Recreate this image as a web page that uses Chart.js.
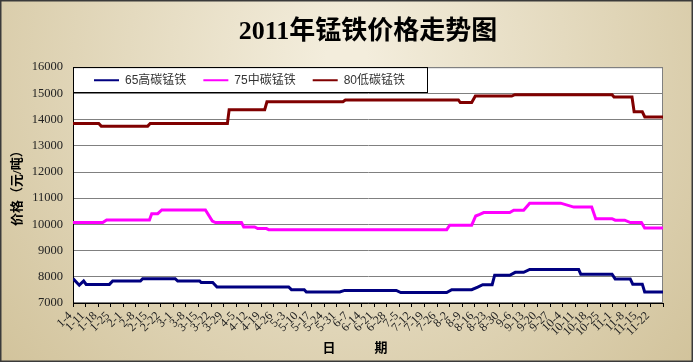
<!DOCTYPE html>
<html lang="zh-CN">
<head>
<meta charset="UTF-8">
<meta name="viewport" content="width=device-width, initial-scale=1.0">
<script src="https://cdn.jsdelivr.net/npm/chart.js@4"></script>
<title>2011年锰铁价格走势图</title>
<style>
  body { margin: 0; }
  #wrap { width: 693px; height: 362px; position: relative; }
</style>
</head>
<body>
<div id="wrap"><canvas id="myChart"></canvas></div>

<script>
// week labels (every Tuesday of 2011), one category per week
const weekLabels = ['1-4','1-11','1-18','1-25','2-1','2-8','2-15','2-22','3-1','3-8','3-15','3-22','3-29',
  '4-5','4-12','4-19','4-26','5-3','5-10','5-17','5-24','5-31','6-7','6-14','6-21','6-28',
  '7-5','7-12','7-19','7-26','8-2','8-9','8-16','8-23','8-30','9-6','9-13','9-20','9-27',
  '10-4','10-11','10-18','10-25','11-1','11-8','11-15','11-22'];

const seriesNames = ['65高碳锰铁', '75中碳锰铁', '80低碳锰铁'];
const seriesColors = ['#000080', '#ff00ff', '#800000'];

// [week position, price 元/吨] — 0 = week of 1-4
const gaoTan = [[-0.5,7930],[0.0,7680],[0.35,7840],[0.55,7710],[2.40,7710],[2.66,7840],[4.87,7840],[5.05,7930],
  [7.64,7930],[7.84,7840],[9.59,7840],[9.71,7780],[10.63,7780],[10.97,7610],[16.68,7610],[16.90,7510],
  [17.92,7510],[18.09,7420],[20.75,7420],[21.14,7480],[25.25,7480],[25.61,7400],[29.27,7400],[29.67,7510],
  [31.26,7510],[31.74,7610],[32.14,7700],[32.89,7700],[33.09,8060],[34.29,8060],[34.73,8170],[35.40,8170],
  [35.88,8280],[39.78,8280],[39.95,8100],[42.44,8100],[42.69,7920],[43.89,7920],[44.09,7720],[44.85,7720],
  [45.04,7420],[46.5,7420]];

const zhongTan = [[-0.5,10070],[1.87,10070],[2.18,10170],[5.59,10170],[5.77,10410],[6.25,10410],[6.57,10550],
  [10.05,10550],[10.6,10130],[10.85,10070],[12.92,10070],[13.10,9900],[13.97,9900],[14.21,9840],[14.91,9840],
  [15.09,9800],[29.27,9800],[29.51,9970],[31.26,9970],[31.58,10320],[31.90,10380],[32.22,10450],[34.29,10450],
  [34.61,10540],[35.40,10540],[35.88,10810],[38.35,10810],[39.39,10660],[40.82,10660],[41.14,10220],
  [42.44,10220],[42.69,10160],[43.45,10160],[43.9,10070],[44.78,10070],[45.04,9860],[46.5,9860]];

const diTan = [[-0.5,13850],[1.55,13850],[1.75,13750],[5.45,13750],[5.65,13850],[11.8,13850],[11.94,14380],
  [14.77,14380],[14.95,14680],[21.0,14680],[21.2,14750],[30.2,14750],[30.35,14650],[31.26,14650],
  [31.55,14900],[34.45,14900],[34.7,14950],[42.44,14950],[42.6,14860],[44.03,14860],[44.2,14300],
  [44.85,14300],[45.05,14100],[46.5,14100]];

const serifFont = "'Liberation Serif', 'Noto Sans CJK SC', serif";
const sansFont = "'Liberation Sans', 'Noto Sans CJK SC', sans-serif";

function toPoints(pairs) {
  return pairs.map(([x, y]) => ({ x: x, y: y }));
}

// beige backdrop, white plot area, and the boxed legend sitting inside the plot
const backdrop = {
  id: 'backdrop',
  beforeDraw(chart) {
    const { ctx, width, height, chartArea: ca } = chart;
    ctx.save();
    const g = ctx.createRadialGradient(width / 2, 60, 20, width / 2, 60, 470);
    g.addColorStop(0, '#f3eddc');
    g.addColorStop(1, '#d1c29a');
    ctx.fillStyle = g;
    ctx.fillRect(0, 0, width, height);
    ctx.strokeStyle = '#3a3a3a';
    ctx.lineWidth = 1.5;
    ctx.strokeRect(0.75, 0.75, width - 1.5, height - 1.5);
    ctx.fillStyle = '#fff';
    ctx.fillRect(ca.left, ca.top, ca.width, ca.height);
    ctx.strokeStyle = '#808080';
    ctx.lineWidth = 1;
    ctx.strokeRect(ca.left + 0.5, ca.top + 0.5, ca.width - 1, ca.height - 1);
    ctx.restore();
  },
  afterLayout(chart) {
    // move the legend into the top band of the plot
    const lg = chart.legend, ca = chart.chartArea;
    lg.left = ca.left + 14;
    lg.right = ca.right;
    lg.top = ca.top;
    lg.bottom = ca.top + 26;
    lg.width = lg.right - lg.left;
    lg.height = 26;
  },
  afterDraw(chart) {
    const { ctx, chartArea: ca } = chart;
    ctx.save();
    ctx.strokeStyle = '#000';
    ctx.lineWidth = 1;
    ctx.strokeRect(Math.round(ca.left) + 0.5, Math.round(ca.top) + 0.5, 354, 25);
    ctx.restore();
  }
};

const datasets = [gaoTan, zhongTan, diTan].map((s, i) => ({
  label: seriesNames[i],
  data: toPoints(s),
  borderColor: seriesColors[i],
  backgroundColor: seriesColors[i],
  borderWidth: 3,
  pointRadius: 0,
  tension: 0,
  fill: false,
  xAxisID: 'x'
}));

new Chart(document.getElementById('myChart'), {
  type: 'line',
  data: { datasets: datasets },
  plugins: [backdrop],
  options: {
    responsive: true,
    maintainAspectRatio: false,
    animation: false,
    layout: { padding: { left: 0, right: 30, top: 0, bottom: 0 } },
    plugins: {
      title: {
        display: true,
        fullSize: false,
        text: '2011年锰铁价格走势图',
        color: '#000',
        font: { family: serifFont, size: 26, weight: 'bold' },
        padding: { top: 17, bottom: 19 }
      },
      legend: {
        display: true,
        position: 'top',
        align: 'start',
        maxHeight: 0.01,
        labels: {
          usePointStyle: true,
          pointStyle: 'line',
          pointStyleWidth: 25,
          padding: 7,
          color: '#333',
          font: { family: sansFont, size: 12 },
          generateLabels: chart => chart.data.datasets.map((ds, i) => ({
            text: ds.label + '   ',
            strokeStyle: ds.borderColor,
            fillStyle: ds.borderColor,
            fontColor: '#333',
            lineWidth: 2,
            pointStyle: 'line',
            hidden: false,
            datasetIndex: i
          }))
        }
      },
      tooltip: { enabled: false }
    },
    scales: {
      xt: {
        type: 'linear',
        position: 'bottom',
        min: -0.5,
        max: 46.5,
        afterBuildTicks: s => {
          s.ticks = Array.from({ length: weekLabels.length + 1 }, (_, i) => ({ value: i - 0.5 }));
        },
        ticks: { display: false },
        grid: { drawOnChartArea: false, tickLength: 4, color: '#000' },
        border: { color: '#000', width: 1 }
      },
      x: {
        type: 'linear',
        position: 'bottom',
        min: -0.5,
        max: 46.5,
        afterBuildTicks: s => {
          s.ticks = weekLabels.map((_, i) => ({ value: i }));
        },
        ticks: {
          autoSkip: false,
          minRotation: 45,
          maxRotation: 45,
          padding: 2,
          labelOffset: -9,
          color: '#222',
          font: { family: serifFont, size: 12 },
          callback: v => weekLabels[Math.round(v)]
        },
        grid: { display: false, drawTicks: false },
        border: { display: false },
        title: {
          display: true,
          text: '日　　　期　　',
          color: '#000',
          font: { family: serifFont, size: 13, weight: 'bold' },
          padding: { top: 0, bottom: 6 }
        },
        afterFit: s => { s.height = 55; }
      },
      y: {
        min: 7000,
        max: 16000,
        ticks: {
          stepSize: 1000,
          padding: 10,
          color: '#222',
          font: { family: serifFont, size: 12.5 },
          callback: v => String(v)
        },
        grid: { color: '#808080', drawTicks: false },
        border: { color: '#000', width: 1 },
        title: {
          display: true,
          text: '价格（元/吨）',
          color: '#000',
          font: { family: serifFont, size: 13, weight: 'bold' },
          padding: { top: 10, bottom: 0 }
        },
        afterFit: s => { s.width = 73; }
      }
    }
  }
});
</script>
</body>
</html>
